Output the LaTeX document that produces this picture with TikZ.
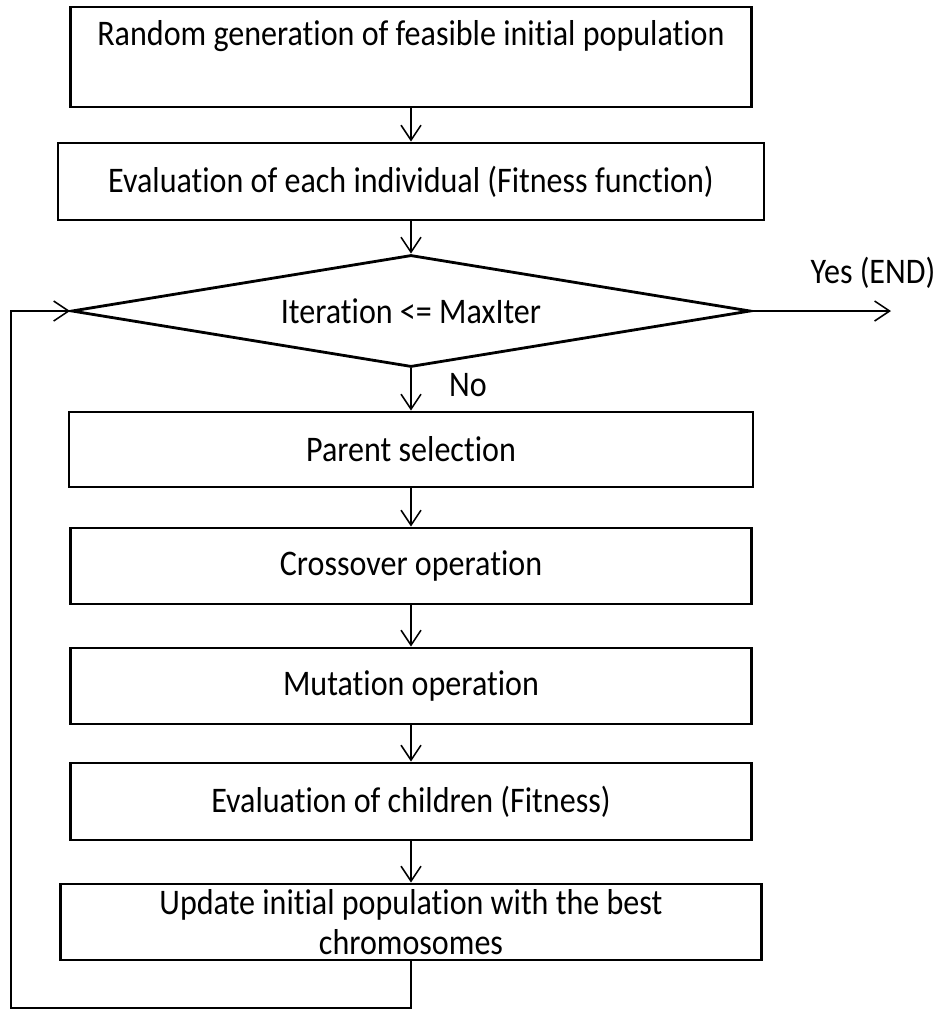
\documentclass[tikz,border=0pt]{standalone}
\usepackage{fontspec}
\setmainfont{Carlito}[FakeStretch=0.89, Ligatures=NoCommon]
\usetikzlibrary{arrows.meta, positioning, shapes.geometric}

\begin{document}
\begin{tikzpicture}[
    font=\fontsize{20.5}{23}\selectfont,
    procbox/.style={draw, line width=1.6pt, minimum height=1.52cm,
                    minimum width=13.62cm, align=center, inner sep=0pt},
    testbox/.style={draw, diamond, line width=1.6pt, minimum width=13.58cm,
                    minimum height=2.24cm, inner sep=0pt, aspect=6},
    flow/.style={-{Straight Barb[length=3mm, width=4mm]}, line width=0.9pt}
  ]
    \useasboundingbox (0,0) rectangle (18.88,-20.2);
    \node[procbox, minimum height=2.0cm, text height=0.5cm, text depth=0.96cm] (init) at (8.22,-1.14) {Random generation of feasible initial population};
    \node[procbox, minimum width=14.12cm, minimum height=1.54cm] (evalall) at (8.22,-3.63) {Evaluation of each individual (Fitness function)};
    \node[testbox] (check) at (8.22,-6.22) {Iteration <= MaxIter};
    \node[procbox, minimum width=13.68cm, minimum height=1.5cm] (parent) at (8.22,-8.99) {Parent selection};
    \node[procbox] (cross) at (8.22,-11.32) {Crossover operation};
    \node[procbox] (mut) at (8.22,-13.72) {Mutation operation};
    \node[procbox, minimum height=1.54cm] (evalkids) at (8.22,-16.03) {Evaluation of children (Fitness)};
    \node[procbox, minimum width=14.02cm] (update) at (8.22,-18.44) {Update initial population with the best\\chromosomes};
    \coordinate (fin) at (17.82,-6.22);
    \coordinate (back) at (0.22,-20.16);

    \draw[flow] (init) -- (evalall);
    \draw[flow] (evalall) -- (check);
    \draw[flow] (check) -- (parent);
    \draw[flow] (parent) -- (cross);
    \draw[flow] (cross) -- (mut);
    \draw[flow] (mut) -- (evalkids);
    \draw[flow] (evalkids) -- (update);
    \draw[flow] (check.east) -- (fin);
    \draw[flow] (update.south) |- (back) |- (check.west);
    \node (yes) at (17.46,-5.46) {Yes (END)};
    \node (no) at (9.36,-7.7) {No};
  \end{tikzpicture}
\end{document}
